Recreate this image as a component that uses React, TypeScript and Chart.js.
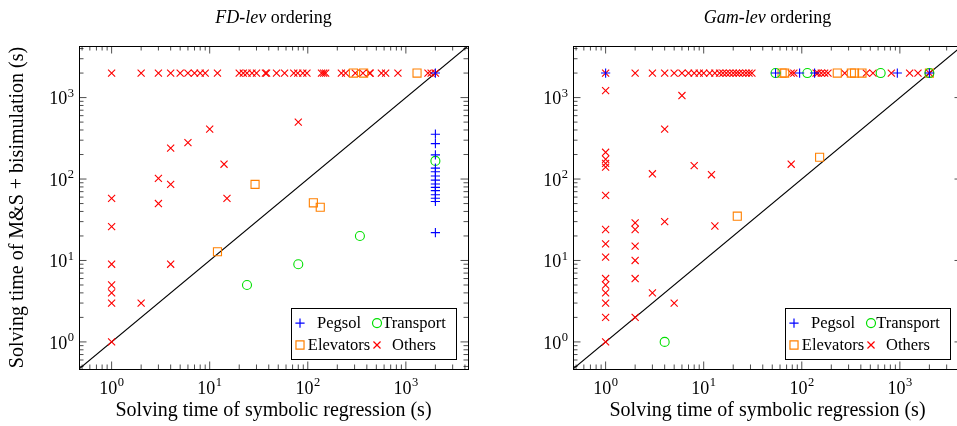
import React, { useEffect, useRef } from 'react';
import { Chart, registerables } from 'chart.js';
Chart.register(...registerables);

// ---- axes ----
const AXIS_MIN = 0.465;
const AXIS_MAX = 4300;
const decadeTicks = [1, 10, 100, 1000];
const decadeExponents = ['0', '1', '2', '3'];
const minorBases = [0.1, 1, 10, 100, 1000];
const minorMultipliers = [2, 3, 4, 5, 6, 7, 8, 9];

const seriesNames = ['Pegsol', 'Transport', 'Elevators', 'Others'];
const xAxisTitle = 'Solving time of symbolic regression (s)';
const yAxisTitle = 'Solving time of M&S + bisimulation (s)';

// ---- FD-lev ordering ----
const fdPegsol = [
  [2000, 2000], [2000, 355], [2000, 272], [2000, 198], [2000, 136], [2000, 123], [2000, 109],
  [2000, 97], [2000, 87], [2000, 79], [2000, 72], [2000, 64], [2000, 58], [2000, 53], [2000, 22],
];
const fdTransport = [[24, 5], [80, 9], [340, 20], [2000, 167]];
const fdElevators = [[12, 12.8], [29, 86], [114, 51], [134, 45], [292, 2000], [371, 2000], [1300, 2000]];
const fdOthers = [
  [1, 2000], [2, 2000], [3, 2000], [4, 2000], [5, 2000], [6, 2000], [7, 2000], [8, 2000], [9, 2000],
  [12, 2000], [20, 2000], [22, 2000], [24, 2000], [27, 2000], [30, 2000], [37, 2000], [38, 2000],
  [48, 2000], [58, 2000], [72, 2000], [79, 2000], [89, 2000], [98, 2000], [138, 2000], [145, 2000],
  [152, 2000], [220, 2000], [243, 2000], [305, 2000], [365, 2000], [427, 2000], [433, 2000],
  [563, 2000], [622, 2000], [830, 2000], [1680, 2000], [1810, 2000], [2000, 2000],
  [1, 58], [1, 26], [3, 102], [3, 50], [4, 240], [4, 86], [6, 280], [10, 410], [14, 152], [15, 58],
  [80, 500], [1, 9], [4, 9], [1, 5], [1, 4], [1, 3], [2, 3], [1, 1],
];

// ---- Gam-lev ordering ----
const gamPegsol = [[1, 2000], [54, 2000], [95, 2000], [135, 2000], [942, 2000], [2000, 2000]];
const gamTransport = [[54, 2000], [114, 2000], [637, 2000], [2000, 2000], [4, 1]];
const gamElevators = [
  [63, 2000], [67, 2000], [230, 2000], [320, 2000], [345, 2000], [411, 2000], [2000, 2000],
  [22, 35], [152, 185],
];
const gamOthers = [
  [1, 2000], [2, 2000], [3, 2000], [4, 2000], [5, 2000], [6, 2000], [7, 2000], [8, 2000], [9, 2000],
  [10, 2000], [11.5, 2000], [13, 2000], [14.5, 2000], [15.7, 2000], [17, 2000], [18.4, 2000],
  [20, 2000], [21.5, 2000], [23, 2000], [25, 2000], [27, 2000], [29, 2000], [31, 2000], [78, 2000],
  [83, 2000], [140, 2000], [146, 2000], [158, 2000], [171, 2000], [185, 2000], [274, 2000],
  [455, 2000], [532, 2000], [819, 2000], [1258, 2000], [1530, 2000], [2000, 2000],
  [1, 1220], [6, 1060], [4, 410], [1, 213], [1, 175], [1, 156], [1, 140], [1, 63], [1, 24], [1, 16],
  [2, 29], [2, 24], [2, 15], [3, 116], [4, 30], [8, 146], [12, 113], [13, 26.5], [78, 152],
  [1, 11], [2, 10], [1, 6], [2, 6], [1, 5], [1, 4], [1, 3], [1, 2], [2, 2], [3, 4], [5, 3], [1, 1],
];

// ---- styles ----
const seriesColors = ['#0000ff', '#00e000', '#ff8000', '#ff0000'];
const seriesPointStyles = ['cross', 'circle', 'rect', 'crossRot'];
const seriesRadii = [4.6, 4.5, 5.7, 5];

const FONT = '"Liberation Serif", "Times New Roman", serif';

const panels = [
  {
    titleItalic: 'FD-lev', titleRest: ' ordering', series: [fdPegsol, fdTransport, fdElevators, fdOthers],
    showYTitle: true, left: 0, width: 478, padLeft: 79, padRight: 10,
  },
  {
    titleItalic: 'Gam-lev', titleRest: ' ordering', series: [gamPegsol, gamTransport, gamElevators, gamOthers],
    showYTitle: false, left: 478, width: 494, padLeft: 95, padRight: 10,
  },
];

function drawPow(ctx: CanvasRenderingContext2D, x: number, y: number, exp: string, align: string) {
  const base = `18px ${FONT}`;
  const sup = `12.5px ${FONT}`;
  ctx.font = base;
  const bw = ctx.measureText('10').width;
  ctx.font = sup;
  const ew = ctx.measureText(exp).width;
  const total = bw + ew + 0.5;
  const start = align === 'right' ? x - total : x - total / 2;
  ctx.textAlign = 'left';
  ctx.textBaseline = 'middle';
  ctx.fillStyle = '#000';
  ctx.font = base;
  ctx.fillText('10', start, y + 2);
  ctx.font = sup;
  ctx.fillText(exp, start + bw + 0.5, y - 4);
}

function drawMarker(ctx: CanvasRenderingContext2D, style: string, color: string, r: number, x: number, y: number) {
  ctx.save();
  ctx.strokeStyle = color;
  ctx.lineWidth = 1.2;
  ctx.beginPath();
  if (style === 'cross') {
    ctx.moveTo(x - r, y); ctx.lineTo(x + r, y);
    ctx.moveTo(x, y - r); ctx.lineTo(x, y + r);
  } else if (style === 'crossRot') {
    const o = r * Math.SQRT1_2;
    ctx.moveTo(x - o, y - o); ctx.lineTo(x + o, y + o);
    ctx.moveTo(x - o, y + o); ctx.lineTo(x + o, y - o);
  } else if (style === 'circle') {
    ctx.arc(x, y, r, 0, Math.PI * 2);
  } else {
    const s = r * Math.SQRT1_2;
    ctx.rect(x - s, y - s, 2 * s, 2 * s);
  }
  ctx.stroke();
  ctx.restore();
}

const decorPlugin = {
  id: 'decor',
  beforeDatasetsDraw(chart: any) {
    const { ctx, chartArea: a, scales } = chart;
    const xs = scales.x, ys = scales.y;
    ctx.save();
    ctx.strokeStyle = '#222';
    ctx.lineWidth = 0.8;
    const tick = (v: number, len: number) => {
      const px = xs.getPixelForValue(v);
      const py = ys.getPixelForValue(v);
      ctx.beginPath();
      if (px >= a.left && px <= a.right) {
        ctx.moveTo(px, a.bottom); ctx.lineTo(px, a.bottom - len);
        ctx.moveTo(px, a.top); ctx.lineTo(px, a.top + len);
      }
      if (py >= a.top && py <= a.bottom) {
        ctx.moveTo(a.left, py); ctx.lineTo(a.left + len, py);
        ctx.moveTo(a.right, py); ctx.lineTo(a.right - len, py);
      }
      ctx.stroke();
    };
    minorBases.forEach((b) => minorMultipliers.forEach((m) => {
      const v = b * m;
      if (v > AXIS_MIN && v < AXIS_MAX) tick(v, 4.5);
    }));
    decadeTicks.forEach((v) => tick(v, 7.5));
    ctx.restore();
  },
  afterDraw(chart: any, _args: any, opts: any) {
    const { ctx, chartArea: a, scales } = chart;
    const xs = scales.x, ys = scales.y;
    ctx.save();
    // frame
    ctx.strokeStyle = '#000';
    ctx.lineWidth = 1;
    ctx.strokeRect(Math.round(a.left) + 0.5, Math.round(a.top) + 0.5,
      Math.round(a.right - a.left), Math.round(a.bottom - a.top));
    // tick labels
    decadeTicks.forEach((v, i) => {
      drawPow(ctx, xs.getPixelForValue(v), a.bottom + 18, decadeExponents[i], 'center');
      drawPow(ctx, a.left - 5, ys.getPixelForValue(v), decadeExponents[i], 'right');
    });
    // axis titles
    ctx.fillStyle = '#000';
    ctx.textBaseline = 'middle';
    ctx.textAlign = 'center';
    ctx.font = `20px ${FONT}`;
    ctx.fillText(xAxisTitle, (a.left + a.right) / 2, a.bottom + 42);
    if (opts.showYTitle) {
      ctx.save();
      ctx.translate(18, (a.top + a.bottom) / 2);
      ctx.rotate(-Math.PI / 2);
      ctx.fillText(yAxisTitle, 0, 0);
      ctx.restore();
    }
    // title
    ctx.font = `italic 18px ${FONT}`;
    const w1 = ctx.measureText(opts.titleItalic).width;
    ctx.font = `18px ${FONT}`;
    const w2 = ctx.measureText(opts.titleRest).width;
    const tx = (a.left + a.right) / 2 - (w1 + w2) / 2;
    ctx.textAlign = 'left';
    ctx.font = `italic 18px ${FONT}`;
    ctx.fillText(opts.titleItalic, tx, 18);
    ctx.font = `18px ${FONT}`;
    ctx.fillText(opts.titleRest, tx + w1, 18);
    // legend
    const lw = 165, lh = 51;
    const lx = Math.round(a.right - 12 - lw) + 0.5;
    const ly = Math.round(a.bottom - 10 - lh) + 0.5;
    ctx.fillStyle = '#fff';
    ctx.fillRect(lx, ly, lw, lh);
    ctx.strokeStyle = '#000';
    ctx.lineWidth = 1;
    ctx.strokeRect(lx, ly, lw, lh);
    const cells = [
      { mx: 8.5, tx: 47.5, ty: 14.6 },
      { mx: 85.5, tx: 122.5, ty: 14.6 },
      { mx: 8.5, tx: 47.5, ty: 36.5 },
      { mx: 85.5, tx: 122.5, ty: 36.5 },
    ];
    const order = [0, 1, 2, 3];
    ctx.font = `16.5px ${FONT}`;
    ctx.textAlign = 'center';
    ctx.textBaseline = 'middle';
    order.forEach((di, k) => {
      const ds = chart.data.datasets[di];
      const c = cells[k];
      drawMarker(ctx, ds.pointStyle, ds.borderColor, ds.pointRadius, lx + c.mx, ly + c.ty);
      ctx.fillStyle = '#000';
      ctx.fillText(ds.label, lx + c.tx, ly + c.ty + 1);
    });
    ctx.restore();
  },
};

function buildConfig(p: any): any {
  const datasets: any[] = p.series.map((pts: number[][], i: number) => ({
    label: seriesNames[i],
    data: pts.map(([x, y]) => ({ x, y })),
    pointStyle: seriesPointStyles[i],
    pointRadius: seriesRadii[i],
    pointHoverRadius: seriesRadii[i],
    borderColor: seriesColors[i],
    pointBorderColor: seriesColors[i],
    pointBackgroundColor: 'rgba(0,0,0,0)',
    pointBorderWidth: 1.1,
    showLine: false,
  }));
  datasets.push({
    label: 'diagonal',
    type: 'line',
    data: [{ x: AXIS_MIN, y: AXIS_MIN }, { x: AXIS_MAX, y: AXIS_MAX }],
    borderColor: '#000',
    borderWidth: 1.1,
    pointRadius: 0,
    showLine: true,
    fill: false,
  });
  return {
    type: 'scatter',
    data: { datasets },
    options: {
      animation: false,
      responsive: false,
      events: [],
      layout: { padding: { left: p.padLeft, right: p.padRight, top: 46, bottom: 57 } },
      scales: {
        x: { type: 'logarithmic', min: AXIS_MIN, max: AXIS_MAX, display: false },
        y: { type: 'logarithmic', min: AXIS_MIN, max: AXIS_MAX, display: false },
      },
      plugins: {
        legend: { display: false },
        tooltip: { enabled: false },
        decor: { titleItalic: p.titleItalic, titleRest: p.titleRest, showYTitle: p.showYTitle },
      },
    },
    plugins: [decorPlugin],
  };
}

function Panel({ p }: { p: any }) {
  const ref = useRef<HTMLCanvasElement | null>(null);
  useEffect(() => {
    let chart: any = null;
    let cancelled = false;
    const make = () => {
      if (cancelled || !ref.current) return;
      chart = new Chart(ref.current, buildConfig(p));
    };
    const fonts: any = (document as any).fonts;
    if (fonts && fonts.load) {
      Promise.all([
        fonts.load(`18px "Liberation Serif"`),
        fonts.load(`italic 18px "Liberation Serif"`),
      ]).then(make, make);
    } else make();
    return () => {
      cancelled = true;
      if (chart) chart.destroy();
    };
  }, [p]);
  return (
    <div style={{ position: 'absolute', left: p.left, top: 0, width: p.width, height: 426 }}>
      <canvas ref={ref} width={p.width} height={426} style={{ width: p.width, height: 426, display: 'block' }} />
    </div>
  );
}

export default function App() {
  return (
    <div style={{ position: 'absolute', left: 0, top: 0, width: 957, height: 426, overflow: 'hidden', background: '#fff' }}>
      {panels.map((p, i) => <Panel key={i} p={p} />)}
    </div>
  );
}
